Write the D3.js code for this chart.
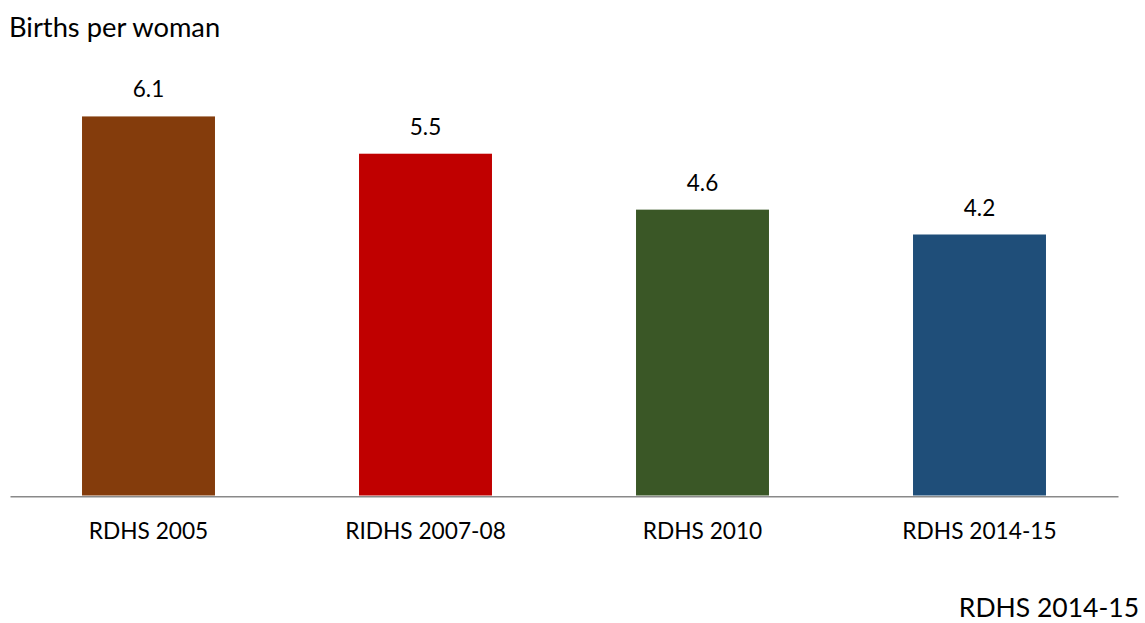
<!DOCTYPE html>
<html>
<head>
<meta charset="utf-8">
<script src="https://cdn.jsdelivr.net/npm/d3@7"></script>
<style>
  html, body { margin: 0; padding: 0; background: #fff; }
  svg { display: block; }
  text { font-family: Lato, "Open Sans", sans-serif; fill: #000; }
</style>
</head>
<body>
<svg id="chart" width="1145" height="623"></svg>
<script>
const categories = ["RDHS 2005", "RIDHS 2007-08", "RDHS 2010", "RDHS 2014-15"];
const values = [6.1, 5.5, 4.6, 4.2];
const colors = ["#843C0C", "#C00000", "#3A5726", "#1F4E79"];
const yDomain = [0, 7];
const titleText = "Births per woman";
const sourceText = "RDHS 2014-15";

const svg = d3.select("#chart");

const x = d3.scaleBand()
  .domain(categories)
  .range([10, 1118])
  .paddingInner(0.52)
  .paddingOuter(0.26);

const y = d3.scaleLinear().domain(yDomain).range([495.5, 60.5]);

svg.append("text")
  .attr("x", 9)
  .attr("y", 37)
  .style("font-size", "27.3px")
  .text(titleText);

svg.selectAll("rect.bar")
  .data(values)
  .enter().append("rect")
  .attr("class", "bar")
  .attr("x", (d, i) => x(categories[i]))
  .attr("width", x.bandwidth())
  .attr("y", d => y(d))
  .attr("height", d => y(0) - y(d))
  .attr("fill", (d, i) => colors[i]);

svg.selectAll("text.val")
  .data(values)
  .enter().append("text")
  .attr("class", "val")
  .attr("x", (d, i) => x(categories[i]) + x.bandwidth() / 2)
  .attr("y", d => y(d) - 19)
  .attr("text-anchor", "middle")
  .style("font-size", "22.5px")
  .text(d => d.toFixed(1));

const xAxis = d3.axisBottom(x).tickSize(0).tickPadding(0);
const gx = svg.append("g")
  .attr("transform", `translate(0,${y(0) + 0.8})`)
  .call(xAxis);
gx.select(".domain").attr("stroke", "#898989").attr("stroke-width", 1.6);
gx.selectAll(".tick text")
  .attr("y", 43)
  .attr("dy", 0)
  .style("font-size", "22.7px")
  .style("font-family", "Lato, 'Open Sans', sans-serif")
  .attr("fill", "#000");

svg.append("text")
  .attr("x", 1139)
  .attr("y", 617)
  .attr("text-anchor", "end")
  .style("font-size", "26.5px")
  .text(sourceText);
</script>
</body>
</html>
